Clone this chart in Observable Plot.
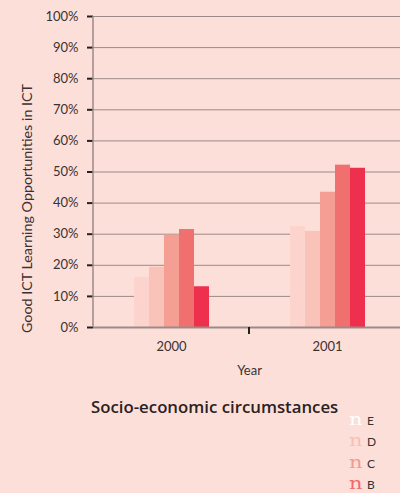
<!DOCTYPE html>
<html><head><meta charset="utf-8">
<script src="https://cdn.jsdelivr.net/npm/d3@7"></script>
<script src="https://cdn.jsdelivr.net/npm/@observablehq/plot@0.6"></script>
<style>
html,body{margin:0;padding:0;background:#fddfd9;overflow:hidden}
#wrap{position:relative;width:400px;height:493px;font-family:"Open Sans",sans-serif;color:#3a3232}
#chart svg{display:block}
#title{position:absolute;left:91px;top:395px;font-size:16.8px;font-weight:600;color:#2a2222;white-space:nowrap}
#legend{position:absolute;left:0;top:0}
</style></head><body><div id="wrap"><div id="chart"></div><div id="title">Socio-economic circumstances</div><svg id="legend" width="400" height="493"></svg></div>
<script>
const years = [2000, 2001];
const groups = ["E", "D", "C", "B", "A"];
const seriesE = [16.1, 32.5];
const seriesD = [19.4, 30.9];
const seriesC = [29.7, 43.5];
const seriesB = [31.5, 52.2];
const seriesA = [13.1, 51.2];
const barColors = ["#fcd4cd", "#fac3ba", "#f59f94", "#f07070", "#ee2f4d"];
const legendLabels = ["E", "D", "C", "B"];
const legendColors = ["#ffffff", "#f9bfb4", "#f5998f", "#f06a6c"];
const yLabel = "Good ICT Learning Opportunities in ICT";
const xLabel = "Year";

const seriesByGroup = {E: seriesE, D: seriesD, C: seriesC, B: seriesB, A: seriesA};
const data = groups.flatMap(g => years.map((y, j) => ({year: y, group: g, value: seriesByGroup[g][j] / 100})));

const chart = Plot.plot({
  width: 400, height: 385,
  marginLeft: 93, marginRight: -5, marginTop: 16, marginBottom: 58,
  style: {background: "transparent", fontFamily: "Lato", fontSize: "13px", color: "#3a3232"},
  fx: {domain: years, paddingInner: 0, paddingOuter: 0},
  x: {domain: groups, paddingInner: 0, paddingOuter: 2.5, axis: null},
  y: {domain: [0, 1]},
  color: {domain: groups, range: barColors},
  marks: [
    Plot.gridY({ticks: 10, stroke: "#9c8a88", strokeOpacity: 1}),
    Plot.barY(data, {fx: "year", x: "group", y: "value", fill: "group"}),
    Plot.ruleY([0], {stroke: "#9c8a88", strokeWidth: 2}),
    Plot.axisY({ticks: 10, tickFormat: d3.format(".0%"), tickSize: 6, tickPadding: 9, stroke: "#222", strokeWidth: 2, label: null, fontSize: 13}),
    Plot.axisFx({anchor: "bottom", tickSize: 0, tickPadding: 14, tickFormat: d => String(d), label: xLabel, labelAnchor: "center", labelArrow: "none", labelOffset: 47, fontSize: 13})
  ]
});
document.getElementById("chart").append(chart);

const svg = d3.select(chart);
const ys = chart.scale("y"), fxs = chart.scale("fx");
const x0 = fxs.apply(years[0]);
svg.append("line").attr("x1", x0).attr("x2", x0).attr("y1", ys.apply(1)).attr("y2", ys.apply(0))
  .attr("stroke", "#9c8a88").attr("stroke-width", 1.5);
const xb = fxs.apply(years[1]);
svg.append("line").attr("x1", xb).attr("x2", xb).attr("y1", ys.apply(0)).attr("y2", ys.apply(0) + 7)
  .attr("stroke", "#222").attr("stroke-width", 2);
svg.append("text").attr("transform", `translate(27,${(ys.apply(0) + ys.apply(1)) / 2 + 37}) rotate(-90)`)
  .attr("text-anchor", "middle").attr("dy", "0.35em").attr("font-size", 14.3).attr("font-family", "Lato").attr("fill", "#3a3232")
  .text(yLabel);

const legend = d3.select("#legend");
legendLabels.forEach((l, i) => {
  const base = 425 + i * 21.3;
  legend.append("text").attr("x", 349).attr("y", base).attr("font-family", "DejaVu Serif").attr("font-size", 17.5)
    .attr("transform", `translate(349,0) scale(1.2,1) translate(-349,0)`)
    .attr("fill", legendColors[i]).text("n");
  legend.append("text").attr("x", 367).attr("y", base).attr("font-family", "Lato").attr("font-size", 12)
    .attr("fill", "#333").text(l);
});
</script>
</body></html>
